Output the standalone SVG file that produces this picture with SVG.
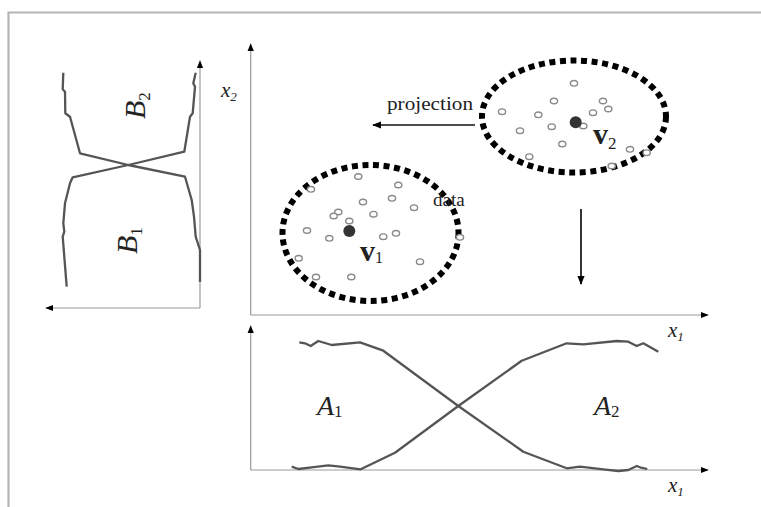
<svg xmlns="http://www.w3.org/2000/svg" width="761" height="507" viewBox="0 0 761 507">
<style>
.frame{fill:none;stroke:#b5b5b5;stroke-width:2.2}
.axis{fill:none;stroke:#9a9a9a;stroke-width:1.2}
.curve{fill:none;stroke:#555;stroke-width:2.3;stroke-linejoin:round}
.cluster{fill:none;stroke:#000;stroke-width:6;stroke-dasharray:6 4.6}
.pt{fill:#fff;stroke:#8a8a8a;stroke-width:1.4}
.ctr{fill:#333}
.lbl{font-family:"Liberation Serif",serif;fill:#222}
.it{font-style:italic}
.arrow{stroke:#111;stroke-width:1.7;fill:none}
</style>
<defs>
<marker id="ah" viewBox="0 0 10 10" refX="9" refY="5" markerWidth="8" markerHeight="8" markerUnits="userSpaceOnUse" orient="auto">
<path d="M0,1 L10,5 L0,9 z" fill="#000"/>
</marker>
<marker id="ah2" viewBox="0 0 10 10" refX="9" refY="5" markerWidth="9" markerHeight="9" markerUnits="userSpaceOnUse" orient="auto">
<path d="M0,1 L10,5 L0,9 z" fill="#000"/>
</marker>
</defs>
<rect width="761" height="507" fill="#fff"/>
<path class="frame" d="M8.5,507 V12.5 H761"/>

<g id="left-panel">
<path class="axis" d="M200,308 V61" marker-end="url(#ah)"/>
<path class="axis" d="M200,308 H46" marker-end="url(#ah)"/>
<path class="curve" d="M63.3,72.7 L62.7,89.3 L65,91.7 L65.3,113.3 L70,116.7 L80,153.3 L128.3,165 L185,176.7 L191.7,200 L194,216.7 L195.7,236.7 L200,250 L200,282"/>
<path class="curve" d="M195.7,72.7 L193.3,83.3 L195,86.7 L192.7,113.3 L190,116.7 L184.3,151.7 L128.3,165 L72.7,177.3 L70,183.3 L65,203.3 L63.3,223.3 L64.3,231.7 L62.7,236.7 L66.7,286.7"/>
<text class="lbl it" font-size="30" transform="translate(145,119) rotate(-90)">B<tspan font-size="17" font-style="normal" dy="5">2</tspan></text>
<text class="lbl it" font-size="30" transform="translate(137,254) rotate(-90)">B<tspan font-size="17" font-style="normal" dy="5">1</tspan></text>
</g>

<g id="scatter-axes">
<path class="axis" d="M250.7,315 V44" marker-end="url(#ah)"/>
<path class="axis" d="M250.7,315 H708" marker-end="url(#ah)"/>
<text class="lbl it" x="221" y="97" font-size="21">x<tspan font-size="13" dy="4">2</tspan></text>
<text class="lbl it" x="668" y="337" font-size="21">x<tspan font-size="13" dy="4">1</tspan></text>
</g>

<g id="cluster-v1">
<ellipse class="cluster" cx="370.5" cy="233" rx="88" ry="68"/>
<g>
<ellipse class="pt" cx="358.3" cy="176.5" rx="3.6" ry="2.8"/>
<ellipse class="pt" cx="398.3" cy="185" rx="3.6" ry="2.8"/>
<ellipse class="pt" cx="311" cy="189.3" rx="3.6" ry="2.8"/>
<ellipse class="pt" cx="392" cy="198.3" rx="3.6" ry="2.8"/>
<ellipse class="pt" cx="363" cy="202" rx="3.6" ry="2.8"/>
<ellipse class="pt" cx="414" cy="207.7" rx="3.6" ry="2.8"/>
<ellipse class="pt" cx="338.3" cy="212" rx="3.6" ry="2.8"/>
<ellipse class="pt" cx="333.7" cy="216" rx="3.6" ry="2.8"/>
<ellipse class="pt" cx="373.5" cy="214.2" rx="3.6" ry="2.8"/>
<ellipse class="pt" cx="349.3" cy="221" rx="3.6" ry="2.8"/>
<ellipse class="pt" cx="307" cy="230.5" rx="3.6" ry="2.8"/>
<ellipse class="pt" cx="329.3" cy="238.3" rx="3.6" ry="2.8"/>
<ellipse class="pt" cx="383.3" cy="236.7" rx="3.6" ry="2.8"/>
<ellipse class="pt" cx="396" cy="233.3" rx="3.6" ry="2.8"/>
<ellipse class="pt" cx="460" cy="237.3" rx="3.6" ry="2.8"/>
<ellipse class="pt" cx="298.7" cy="258.3" rx="3.6" ry="2.8"/>
<ellipse class="pt" cx="420" cy="261.7" rx="3.6" ry="2.8"/>
<ellipse class="pt" cx="316" cy="277" rx="3.6" ry="2.8"/>
<ellipse class="pt" cx="351.3" cy="277" rx="3.6" ry="2.8"/>
</g>
<circle class="ctr" cx="349.3" cy="231" r="6"/>
<text class="lbl" x="360" y="261" font-size="30" font-weight="bold">v<tspan font-size="16" font-weight="normal" dy="2">1</tspan></text>
<text class="lbl" x="433" y="206" font-size="19" fill="#444">data</text>
</g>

<g id="cluster-v2">
<ellipse class="cluster" cx="574" cy="116.5" rx="92" ry="56"/>
<g>
<ellipse class="pt" cx="574" cy="83.3" rx="3.6" ry="2.8"/>
<ellipse class="pt" cx="554" cy="101" rx="3.6" ry="2.8"/>
<ellipse class="pt" cx="603" cy="101" rx="3.6" ry="2.8"/>
<ellipse class="pt" cx="502" cy="111.7" rx="3.6" ry="2.8"/>
<ellipse class="pt" cx="608.3" cy="109" rx="3.6" ry="2.8"/>
<ellipse class="pt" cx="538.3" cy="114.8" rx="3.6" ry="2.8"/>
<ellipse class="pt" cx="593" cy="112.7" rx="3.6" ry="2.8"/>
<ellipse class="pt" cx="520" cy="130.7" rx="3.6" ry="2.8"/>
<ellipse class="pt" cx="551.7" cy="126.7" rx="3.6" ry="2.8"/>
<ellipse class="pt" cx="583.3" cy="126" rx="3.6" ry="2.8"/>
<ellipse class="pt" cx="562.3" cy="144" rx="3.6" ry="2.8"/>
<ellipse class="pt" cx="630" cy="149.3" rx="3.6" ry="2.8"/>
<ellipse class="pt" cx="646.7" cy="152.7" rx="3.6" ry="2.8"/>
<ellipse class="pt" cx="529.3" cy="156.7" rx="3.6" ry="2.8"/>
<ellipse class="pt" cx="611.7" cy="166" rx="3.6" ry="2.8"/>
</g>
<circle class="ctr" cx="575.7" cy="122.3" r="6"/>
<text class="lbl" x="593" y="144" font-size="30" font-weight="bold">v<tspan font-size="17" font-weight="normal" dy="5">2</tspan></text>
</g>

<g id="connectors">
<path class="arrow" d="M475,125 H373" marker-end="url(#ah2)"/>
<text class="lbl" x="387" y="110" font-size="19" fill="#333" textLength="86" lengthAdjust="spacingAndGlyphs">projection</text>
<path class="arrow" d="M581,209 V284" marker-end="url(#ah2)"/>
</g>

<g id="bottom-panel">
<path class="axis" d="M250.7,470 V326" marker-end="url(#ah)"/>
<path class="axis" d="M250.7,470 H708" marker-end="url(#ah)"/>
<path class="curve" d="M299.3,342.3 L305,343.3 L310.7,346 L318.3,341 L331.7,345 L360,342.3 L383.3,350.7 L458.3,406 L523.3,451.7 L566.7,468.3 L580,466.7 L603.3,469.3 L618.3,471 L628.3,470 L636.7,466 L640,467.3 L647.3,469"/>
<path class="curve" d="M291.7,466.7 L298.3,469 L311.7,467.3 L328.3,465.3 L340,466.7 L360.7,469.3 L395,452.7 L458.3,406 L521.7,360.7 L566.7,343.3 L583.3,344.3 L616.7,341 L628.3,341.7 L636.7,346 L643.3,343.3 L658.3,351.7"/>
<text class="lbl it" x="317" y="415" font-size="28">A<tspan font-size="17" font-style="normal" dy="2">1</tspan></text>
<text class="lbl it" x="594" y="415" font-size="28">A<tspan font-size="17" font-style="normal" dy="2">2</tspan></text>
<text class="lbl it" x="668" y="492" font-size="21">x<tspan font-size="13" dy="4">1</tspan></text>
</g>
</svg>
